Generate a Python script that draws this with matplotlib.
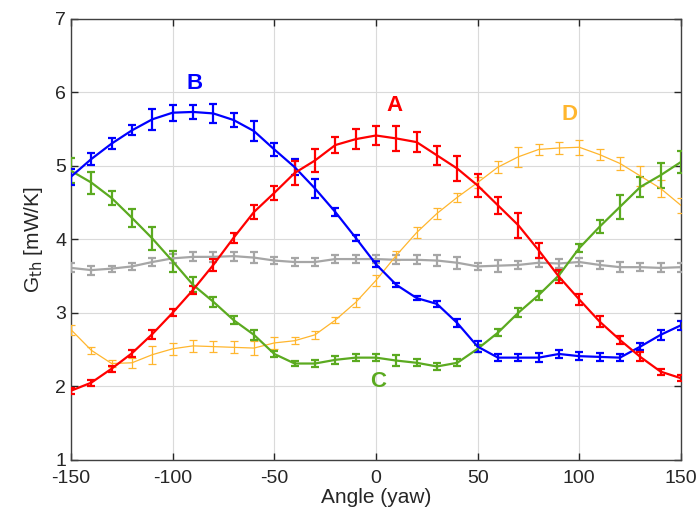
import numpy as np
import matplotlib
matplotlib.use("Agg")
import matplotlib.pyplot as plt

plt.rcParams['font.family'] = ['Liberation Sans', 'DejaVu Sans']
plt.rcParams['axes.unicode_minus'] = False

angles = list(range(-150, 151, 10))

a_vals = [1.94, 2.05, 2.24, 2.45, 2.71, 3.00, 3.31, 3.65, 4.02, 4.37, 4.63, 4.90, 5.07, 5.28, 5.36, 5.41,
          5.37, 5.32, 5.14, 4.96, 4.73, 4.46, 4.19, 3.85, 3.49, 3.18, 2.88, 2.63, 2.40, 2.20, 2.11]
a_err = [0.04, 0.04, 0.04, 0.05, 0.06, 0.05, 0.06, 0.08, 0.07, 0.10, 0.10, 0.16, 0.15, 0.11, 0.14, 0.13,
         0.17, 0.14, 0.13, 0.17, 0.16, 0.12, 0.17, 0.10, 0.09, 0.08, 0.07, 0.06, 0.06, 0.04, 0.04]

b_vals = [4.85, 5.09, 5.30, 5.48, 5.63, 5.72, 5.73, 5.71, 5.62, 5.47, 5.22, 4.98, 4.69, 4.37, 4.02, 3.66,
          3.38, 3.20, 3.12, 2.86, 2.54, 2.39, 2.39, 2.39, 2.44, 2.41, 2.40, 2.39, 2.54, 2.70, 2.83]
b_err = [0.11, 0.08, 0.07, 0.07, 0.14, 0.11, 0.10, 0.13, 0.09, 0.14, 0.09, 0.11, 0.13, 0.06, 0.04, 0.04,
         0.03, 0.03, 0.04, 0.06, 0.08, 0.05, 0.05, 0.06, 0.06, 0.05, 0.05, 0.05, 0.05, 0.07, 0.06]

c_vals = [4.93, 4.77, 4.56, 4.29, 4.01, 3.70, 3.38, 3.15, 2.90, 2.70, 2.44, 2.31, 2.31, 2.36, 2.39, 2.39,
          2.35, 2.32, 2.27, 2.32, 2.51, 2.73, 3.00, 3.24, 3.51, 3.88, 4.17, 4.44, 4.71, 4.87, 5.05]
c_err = [0.17, 0.15, 0.09, 0.12, 0.16, 0.14, 0.10, 0.07, 0.05, 0.07, 0.04, 0.04, 0.05, 0.05, 0.05, 0.05,
         0.07, 0.05, 0.05, 0.05, 0.05, 0.05, 0.06, 0.06, 0.06, 0.06, 0.09, 0.16, 0.13, 0.17, 0.15]

d_vals = [2.77, 2.49, 2.31, 2.32, 2.43, 2.51, 2.55, 2.54, 2.53, 2.52, 2.59, 2.62, 2.70, 2.90, 3.14, 3.44,
          3.78, 4.09, 4.35, 4.57, 4.77, 4.98, 5.12, 5.22, 5.24, 5.25, 5.15, 5.03, 4.86, 4.69, 4.46]
d_err = [0.07, 0.05, 0.05, 0.07, 0.12, 0.08, 0.08, 0.08, 0.08, 0.09, 0.08, 0.05, 0.05, 0.04, 0.06, 0.07,
         0.06, 0.07, 0.07, 0.06, 0.08, 0.08, 0.14, 0.07, 0.08, 0.10, 0.07, 0.09, 0.14, 0.12, 0.10]

g_vals = [3.61, 3.58, 3.60, 3.63, 3.69, 3.74, 3.76, 3.76, 3.77, 3.75, 3.71, 3.69, 3.69, 3.73, 3.73, 3.73,
          3.72, 3.72, 3.71, 3.68, 3.63, 3.64, 3.65, 3.68, 3.67, 3.69, 3.65, 3.62, 3.62, 3.61, 3.62]
g_err = [0.06, 0.06, 0.04, 0.05, 0.06, 0.06, 0.06, 0.07, 0.06, 0.07, 0.05, 0.06, 0.06, 0.06, 0.06, 0.05,
         0.06, 0.06, 0.07, 0.08, 0.05, 0.08, 0.05, 0.06, 0.06, 0.05, 0.06, 0.07, 0.05, 0.06, 0.06]

labels = ['A', 'B', 'C', 'D']
label_x = [9, -89, 1, 95]
label_y = [5.82, 6.12, 2.07, 5.70]

red = '#FF0000'
blue = '#0000FF'
green = '#5BAA20'
orange = '#FFB62E'
gray = '#A6A6A6'

fig = plt.figure(figsize=(7.0, 5.22), dpi=100)
ax = fig.add_axes([0.1014, 0.119, 0.8714, 0.8455])

series = [
    (g_vals, g_err, gray, 1.6),
    (d_vals, d_err, orange, 0.9),
    (c_vals, c_err, green, 1.6),
    (b_vals, b_err, blue, 1.6),
    (a_vals, a_err, red, 1.6),
]
for vals, err, col, lw in series:
    ax.errorbar(angles, vals, yerr=err, color=col, lw=lw, elinewidth=lw,
                capsize=3, capthick=lw, zorder=3)

label_cols = [red, blue, green, orange]
for t, x, y, c in zip(labels, label_x, label_y, label_cols):
    ax.text(x, y, t, color=c, fontsize=16, fontweight='bold', ha='center', va='center', zorder=5)

ax.set_xlim(-150, 150)
ax.set_ylim(1, 7)
ax.set_xticks([-150, -100, -50, 0, 50, 100, 150])
ax.set_yticks([1, 2, 3, 4, 5, 6, 7])
ax.grid(True, color='#DADADA', lw=0.8, zorder=0)
ax.set_axisbelow(True)
ax.tick_params(direction='in', top=True, right=True, labelsize=14, colors='#262626', length=5, width=1)
ax.tick_params(axis='x', pad=7)
for s in ax.spines.values():
    s.set_color('#404040')
    s.set_linewidth(1)
ax.set_xlabel('Angle (yaw)', fontsize=15, color='#262626', labelpad=1)
ax.set_ylabel(r'G$_{\mathrm{th}}$ [mW/K]', fontsize=15, color='#262626', labelpad=7)

fig.savefig('out.png', dpi=100)
